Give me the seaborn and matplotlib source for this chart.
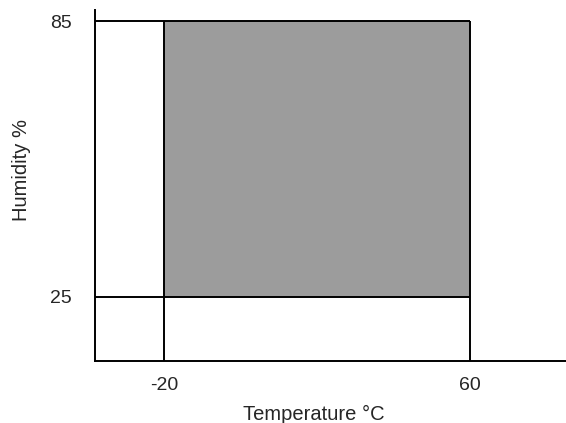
import matplotlib
matplotlib.use("Agg")
import matplotlib.pyplot as plt
import seaborn as sns

# 운전 범위 데이터
temp_range = [-20, 60]      # 온도 범위 (°C)
humidity_range = [25, 85]   # 습도 범위 (%)
x_ticks = [-20, 60]
y_ticks = [25, 85]

sns.set_style("white")
plt.rcParams["font.family"] = ["Liberation Sans", "DejaVu Sans"]
plt.rcParams["axes.unicode_minus"] = False

fig = plt.figure(figsize=(5.66, 4.23), dpi=100)
ax = fig.add_axes([0.168, 0.147, 0.832, 0.829])

ax.set_xlim(-38, 85)
ax.set_ylim(11, 87.4)
x0 = ax.get_xlim()[0]
y0 = ax.get_ylim()[0]

# 회색 영역
ax.fill_between(temp_range, humidity_range[0], humidity_range[1],
                color="#9c9c9c", linewidth=0, zorder=1)

# 경계선
lw = 1.4
ax.hlines(humidity_range, x0, temp_range[1], color="black", linewidth=lw, zorder=3)
ax.vlines(temp_range, y0, humidity_range[1], color="black", linewidth=lw, zorder=3)

ax.set_xticks(x_ticks)
ax.set_yticks(y_ticks)
ax.tick_params(axis="both", length=0, labelsize=14)
ax.tick_params(axis="x", pad=12)
ax.tick_params(axis="y", pad=17)

ax.set_xlabel("Temperature °C", fontsize=14.5)
ax.set_ylabel("Humidity %", fontsize=14.5)
ax.xaxis.set_label_coords(0.465, -0.125)
ax.yaxis.set_label_coords(-0.137, 0.545)

sns.despine(ax=ax)
for side in ["left", "bottom"]:
    ax.spines[side].set_color("black")
    ax.spines[side].set_linewidth(1.4)

fig.savefig("out.png", dpi=100)
